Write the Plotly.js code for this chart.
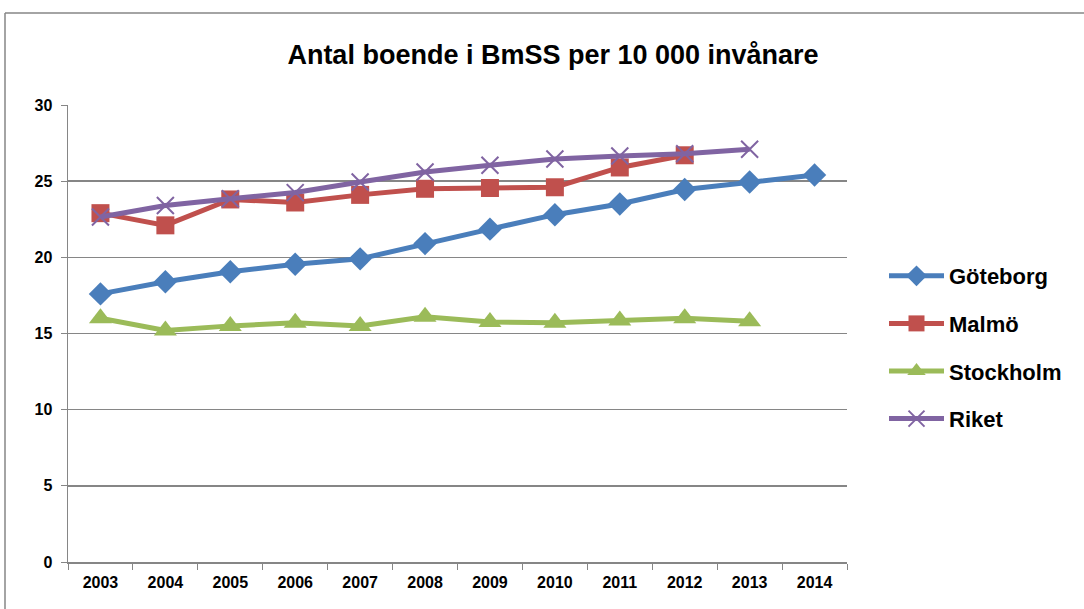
<!DOCTYPE html>
<html><head><meta charset="utf-8">
<script src="https://cdn.plot.ly/plotly-3.0.1.min.js"></script>
<style>body{margin:0;background:#fff}#c{width:1084px;height:609px}</style>
</head><body><div id="c"></div>
<script>
const years = ['2003','2004','2005','2006','2007','2008','2009','2010','2011','2012','2013','2014'];
const goteborg = [17.6, 18.4, 19.05, 19.55, 19.9, 20.9, 21.85, 22.8, 23.5, 24.45, 24.95, 25.4];
const malmo = [22.9, 22.1, 23.8, 23.6, 24.1, 24.5, 24.55, 24.6, 25.9, 26.7];
const stockholm = [16.0, 15.2, 15.5, 15.7, 15.5, 16.1, 15.75, 15.7, 15.85, 16.0, 15.8];
const riket = [22.65, 23.4, 23.85, 24.25, 24.95, 25.6, 26.05, 26.45, 26.65, 26.8, 27.1];
const yTicks = [0, 5, 10, 15, 20, 25, 30];

const names = ['Göteborg','Malmö','Stockholm','Riket'];
const colors = ['#4A7EBB','#C0504D','#9BBB59','#8064A2'];
const series = [goteborg, malmo, stockholm, riket];
const markers = [
  {symbol:'diamond', size:18},
  {symbol:'square', size:18},
  {symbol:'triangle-up', size:20},
  {symbol:'x-thin-open', size:17}
];
const traces = series.map((s,i)=>({
  type:'scatter', mode:'lines+markers', name:'<b>'+names[i]+'</b>',
  x: years.slice(0, s.length), y: s,
  legendgroup:'g'+i,
  line:{color:colors[i], width:5},
  marker: Object.assign({color:colors[i], line:{color:colors[i], width: i===3?2:0}}, markers[i])
}));

const L=68, R=847, T=105, B=562;
const px = v => (v-L)/(R-L), py = v => (B-v)/(B-T);

const layout = {
  width:1084, height:609,
  margin:{l:L, r:1084-R, t:T, b:609-B},
  paper_bgcolor:'#fff', plot_bgcolor:'#fff',
  font:{family:'Liberation Sans, Arial, sans-serif', color:'#000'},
  title:{text:'<b>Antal boende i BmSS per 10 000 invånare</b>', font:{size:27, color:'#000'},
    x:553/1084, xref:'container', xanchor:'center', y:1-55/609, yref:'container', yanchor:'middle'},
  xaxis:{type:'category', range:[-0.5, 11.5], tickson:'boundaries', ticks:'outside', ticklen:6,
    tickvals:years, ticktext:years.map(y=>'<b>'+y+'</b>'),
    tickcolor:'#868686', showline:true, linecolor:'#868686', linewidth:1.5, showgrid:false,
    tickfont:{size:16}, ticklabelstandoff:5, fixedrange:true},
  yaxis:{range:[0,30], tickvals:yTicks, ticktext:yTicks.map(v=>'<b>'+v+'</b>'), ticks:'outside', ticklen:6,
    tickcolor:'#868686', showline:true, linecolor:'#868686', linewidth:1.5,
    showgrid:true, gridcolor:'#868686', gridwidth:1.5, zeroline:false,
    tickfont:{size:16}, ticklabelstandoff:5},
  showlegend:true,
  legend:{x:px(884), y:py(255), xanchor:'left', yanchor:'top', font:{size:22}, tracegroupgap:16,
    itemwidth:55, bgcolor:'rgba(0,0,0,0)'},
  shapes:[
    {type:'line', xref:'paper', yref:'paper', x0:px(5), x1:px(1090), y0:py(13), y1:py(13), line:{color:'#868686', width:1.5}},
    {type:'line', xref:'paper', yref:'paper', x0:px(5), x1:px(5), y0:py(13), y1:py(620), line:{color:'#868686', width:1.5}}
  ]
};
Plotly.newPlot('c', traces, layout, {displayModeBar:false, staticPlot:true});
</script></body></html>
